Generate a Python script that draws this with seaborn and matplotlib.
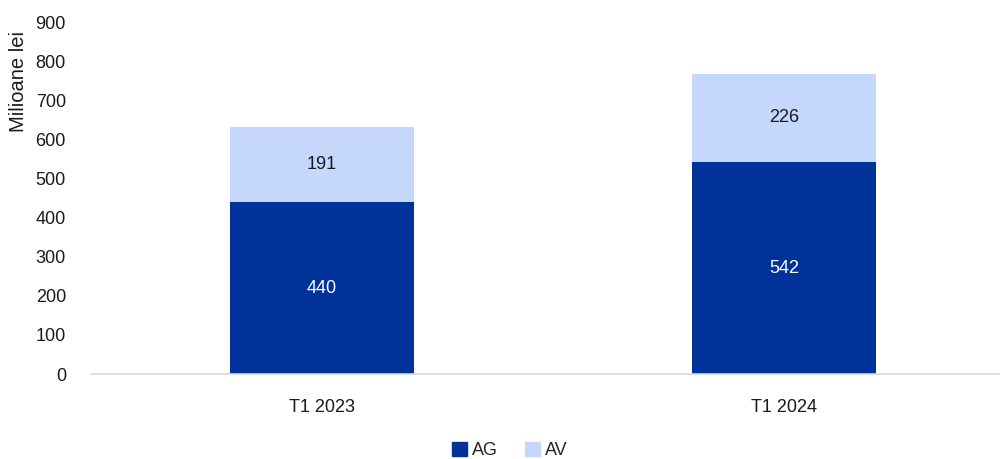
import matplotlib
matplotlib.use("Agg")
import matplotlib.pyplot as plt
import seaborn as sns
import pandas as pd
import numpy as np
from matplotlib.patches import Patch

categories = ["T1 2023", "T1 2024"]
ag_values = [440, 542]
av_values = [191, 226]
series_names = ["AG", "AV"]
y_ticks = [0, 100, 200, 300, 400, 500, 600, 700, 800, 900]

sns.set_theme(style="white")
plt.rcParams['font.family'] = ['Liberation Sans', 'DejaVu Sans']

dark = "#003399"
light = "#C5D7FB"

df = pd.DataFrame({"cat": categories, "AG": ag_values, "AV": av_values})
df["total"] = df["AG"] + df["AV"]

fig = plt.figure(figsize=(10, 4.59), dpi=100)
ax = fig.add_axes([0.091, 0.185, 0.924, 0.767])

sns.barplot(data=df, x="cat", y="total", color=light, width=0.4, ax=ax,
            saturation=1, linewidth=0)
sns.barplot(data=df, x="cat", y="AG", color=dark, width=0.4, ax=ax,
            saturation=1, linewidth=0)

for i, (a, v) in enumerate(zip(ag_values, av_values)):
    ax.text(i, a / 2, f"{a}", ha="center", va="center", color="white", fontsize=13)
    ax.text(i, a + v / 2, f"{v}", ha="center", va="center", color="#1a1a1a", fontsize=13)

ax.set_xlim(-0.5, 1.5)
ax.set_ylim(0, 900)
ax.set_yticks(y_ticks)
ax.set_yticklabels([str(t) for t in y_ticks], fontsize=13, color="#1a1a1a")
ax.tick_params(axis="x", labelsize=13, colors="#1a1a1a", pad=12)
ax.tick_params(axis="y", pad=18, length=0)
ax.set_xlabel("")
ax.set_ylabel("Milioane lei", fontsize=14.5, color="#1a1a1a")
ax.yaxis.set_label_coords(-0.068, 0.83)
for s in ["top", "right", "left"]:
    ax.spines[s].set_visible(False)
ax.spines["bottom"].set_color("#d9d9d9")
ax.spines["bottom"].set_linewidth(1.2)

handles = [Patch(color=dark, label=series_names[0]), Patch(color=light, label=series_names[1])]
fig.legend(handles=handles, loc="center", bbox_to_anchor=(0.51, 0.018), ncol=2,
           frameon=False, fontsize=13, handlelength=0.8, handleheight=0.8,
           handletextpad=0.3, columnspacing=1.5)

fig.savefig("out.png", dpi=100)
